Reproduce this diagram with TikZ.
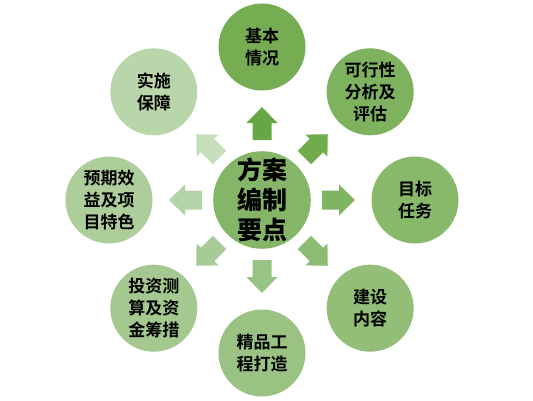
\documentclass[tikz,border=0pt]{standalone}
\usepackage{fontspec}
\newfontfamily\cjkfont{Noto Sans CJK SC Bold}
\newfontfamily\cjkheavy{Noto Sans CJK SC Black}
\usetikzlibrary{calc}
\definecolor{mitte}{HTML}{85B566}
\definecolor{kreis1}{HTML}{76AD52}
\definecolor{kreis2}{HTML}{7FB25E}
\definecolor{kreis3}{HTML}{88B86A}
\definecolor{kreis4}{HTML}{92BE78}
\definecolor{kreis5}{HTML}{9AC383}
\definecolor{kreis6}{HTML}{A4C88F}
\definecolor{kreis7}{HTML}{ADCD9B}
\definecolor{kreis8}{HTML}{B9D6AA}
\definecolor{pfeil1}{HTML}{68A645}
\definecolor{pfeil2}{HTML}{70AB4D}
\definecolor{pfeil3}{HTML}{7DB562}
\definecolor{pfeil4}{HTML}{8CBC74}
\definecolor{pfeil5}{HTML}{98C386}
\definecolor{pfeil6}{HTML}{A6CB96}
\definecolor{pfeil7}{HTML}{B5D3A8}
\definecolor{pfeil8}{HTML}{C6DEBB}

\begin{document}
\begin{tikzpicture}[x=1pt, y=1pt,
    punkt/.style={circle, minimum size=87pt, inner sep=0pt, align=center,
        font=\cjkfont\fontsize{17}{22}\selectfont}]

    \useasboundingbox (0,0) rectangle (533,400);

    \node[punkt, fill=mitte, font=\cjkheavy\fontsize{25}{30}\selectfont] (M) at (262,200) {方案\\编制\\要点};

				\foreach \w/\txt [count=\i] in {90/基本\\情况, 45/可行性\\分析及\\评估, 0/目标\\任务,
					-45/建设\\内容, -90/精品工\\程打造, -135/投资测\\算及资\\金筹措,
					180/预期效\\益及项\\目特色, 135/实施\\保障}{
					\node[punkt, fill=kreis\i] (K\i) at ($(M)+(\w:153)$) {\txt};
			}

				\foreach \w [count=\i] in {90,45,0,-45,-90,-135,180,135}
				\fill[pfeil\i, shift={(M.center)}, rotate=\w] (60,-9.5) -- (77,-9.5) -- (77,-15.5)
					-- (93,0) -- (77,15.5) -- (77,9.5) -- (60,9.5) -- cycle;

\end{tikzpicture}
\end{document}
